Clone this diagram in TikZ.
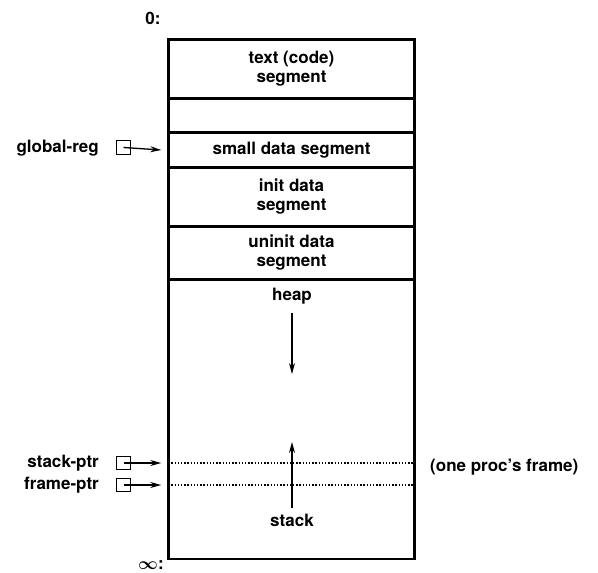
\documentclass[tikz,border=0pt]{standalone}
\usepackage{amsmath}
\usepackage{fontspec}
\setmainfont{TeX Gyre Heros}
\usetikzlibrary{arrows.meta,positioning}
\tikzset{
  seg/.style={draw, line width=1.5pt, minimum width=245pt, inner sep=0pt, align=center,
    font=\bfseries\fontsize{17}{19}\selectfont},
  lbl/.style={font=\bfseries\fontsize{17}{19}\selectfont, inner sep=0pt},
  regbox/.style={draw, line width=1.3pt, minimum size=13.5pt, inner sep=0pt},
  ptr/.style={line width=1.3pt, -{Stealth[length=11pt,width=6pt]}},
  frameline/.style={line width=1.3pt, dash pattern=on 1.3pt off 1.9pt}
}
\begin{document}
\begin{tikzpicture}[x=1pt,y=-1pt]
    \useasboundingbox (0,0) rectangle (598,573);
    % the segments, top to bottom
    \node [seg, minimum height=58pt] (text) at (291.5,69) {text (code)\\segment};
    \node [seg, minimum height=32pt, below=0pt of text] (gap) {};
    \node [seg, minimum height=34pt, below=0pt of gap] (small) {small data segment};
    \node [seg, minimum height=57pt, below=0pt of small] (init) {init data\\segment};
    \node [seg, minimum height=52pt, below=0pt of init] (uninit) {uninit data\\segment};
    \node [seg, minimum height=278pt, below=0pt of uninit] (dyn) {};
    \draw [line width=2.2pt] (text.north west) rectangle (dyn.south east);

    \node [lbl] (zero) at (153,18) {0:};
    \node [lbl] (inf) at (151,565) {$\boldsymbol{\infty}$:};

    % heap and stack
    \node [lbl] (heap) at (292,296) {heap};
    \node [lbl] (stack) at (292,520) {stack};
    \coordinate (hdown) at (292,374);
    \coordinate (sup) at (292,442);
    \draw [ptr] ([yshift=-9pt]heap.south) -- (hdown);
    \draw [ptr] ([yshift=6pt]stack.north) -- (sup);

    % frame lines
    \coordinate (spl) at (dyn.west |- 0,463);
    \coordinate (spr) at (dyn.east |- 0,463);
    \coordinate (fpl) at (dyn.west |- 0,485);
    \coordinate (fpr) at (dyn.east |- 0,485);
    \draw [frameline] (spl) -- (spr);
    \draw [frameline] (fpl) -- (fpr);
    \node [lbl, anchor=west] (frame) at (430,467) {(one proc's frame)};

    % registers
    \node [regbox] (greg) at (123.5,147.5) {};
    \node [regbox] (sreg) at (123.5,463) {};
    \node [regbox] (freg) at (123.5,485) {};
    \node [lbl, anchor=east] (gname) at (99,148) {global-reg};
    \node [lbl, anchor=east] (sname) at (99,463) {stack-ptr};
    \node [lbl, anchor=east] (fname) at (99,485) {frame-ptr};
    \draw [ptr] (greg.center) -- ([xshift=-7pt]small.west);
    \draw [ptr] (sreg.center) -- ([xshift=-7pt]spl);
    \draw [ptr] (freg.center) -- ([xshift=-7pt]fpl);
\end{tikzpicture}
\end{document}
